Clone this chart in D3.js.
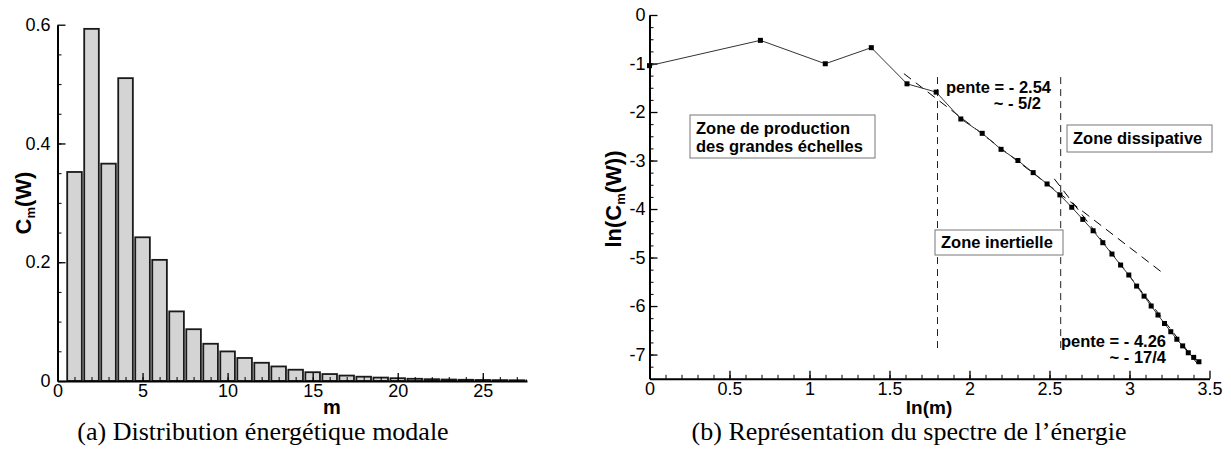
<!DOCTYPE html>
<html><head><meta charset="utf-8">
<script src="https://cdn.jsdelivr.net/npm/d3@7"></script>
<style>body{margin:0;background:#fff}svg{display:block}</style>
</head><body>
<svg id="c" width="1231" height="457"></svg>
<script>
// ---- data ----
const modes = d3.range(1, 32); // m = 1..31
const cmValues = [0.352, 0.593, 0.366, 0.510, 0.242, 0.204, 0.1172, 0.0872, 0.0627, 0.0498,
  0.0388, 0.0307, 0.0245, 0.0190, 0.0148, 0.0117, 0.00915, 0.00724, 0.00577, 0.00470,
  0.00374, 0.00304, 0.00248, 0.00206, 0.00173, 0.00146, 0.00125, 0.00109, 0.000946, 0.000860, 0.000786];
const leftYTicks = [0, 0.2, 0.4, 0.6];
const leftXTicks = [0, 5, 10, 15, 20, 25];
const rightXTicks = [0, 0.5, 1, 1.5, 2, 2.5, 3, 3.5];
const rightYTicks = [0, -1, -2, -3, -4, -5, -6, -7];
const fitLines = [
  {slope: -2.54, intercept: 2.83, from: 1.59, to: 3.21},
  {slope: -4.26, intercept: 7.40, from: 2.53, to: 3.43}
];
const zoneBounds = [1.8, 2.57];
const zoneBoundRange = [-1.28, -6.9];
const captions = ["(a)  Distribution énergétique modale", "(b)  Représentation du spectre de l’énergie"];

const svg = d3.select("#c");
const FONT = "'Liberation Sans', Arial, Helvetica, sans-serif";

function styleAxis(g, fs) {
  g.select(".domain").attr("stroke", "#000").attr("stroke-width", 2);
  g.selectAll(".tick line").attr("stroke", "#000").attr("stroke-width", 1.3);
  g.selectAll(".tick text").attr("font-family", FONT).attr("font-size", fs).attr("fill", "#000");
}
function minor(g) {
  g.select(".domain").remove();
  g.selectAll("line").attr("stroke", "#000").attr("stroke-width", 1);
}

// ================= LEFT CHART =================
const lx = d3.scaleLinear().domain([0, 27.6]).range([57.5, 527]);
const ly = d3.scaleLinear().domain([0, 0.6]).range([381, 24.7]);
const L = svg.append("g");
L.append("clipPath").attr("id", "lclip").append("rect")
  .attr("x", lx(0)).attr("y", 0).attr("width", lx(27.6) - lx(0)).attr("height", 400);
const barW = 0.86;
L.append("g").attr("clip-path", "url(#lclip)").selectAll("rect").data(modes.map((m, i) => ({m, v: cmValues[i]})))
  .join("rect")
  .attr("x", d => lx(d.m - barW / 2))
  .attr("width", d => lx(d.m + barW / 2) - lx(d.m - barW / 2))
  .attr("y", d => ly(d.v))
  .attr("height", d => ly(0) - ly(d.v))
  .attr("fill", "#d4d4d4").attr("stroke", "#1a1a1a").attr("stroke-width", 1.8);

L.append("g").attr("transform", `translate(0,${ly(0)})`)
  .call(d3.axisBottom(lx).tickValues(d3.range(1, 28)).tickSize(-4).tickFormat("")).call(minor);
L.append("g").attr("transform", `translate(${lx(0)},0)`)
  .call(d3.axisLeft(ly).tickValues(d3.range(0.05, 0.6, 0.05)).tickSize(-4).tickFormat("")).call(minor);
L.append("g").attr("transform", `translate(0,${ly(0)})`)
  .call(d3.axisBottom(lx).tickValues(leftXTicks).tickSize(-8).tickSizeOuter(0).tickPadding(3).tickFormat(d => String(d)))
  .call(g => styleAxis(g, 18));
L.append("g").attr("transform", `translate(${lx(0)},0)`)
  .call(d3.axisLeft(ly).tickValues(leftYTicks).tickSize(-8).tickSizeOuter(0).tickPadding(7).tickFormat(d => String(d)))
  .call(g => styleAxis(g, 18));

L.append("text").attr("x", 332).attr("y", 414).attr("text-anchor", "middle")
  .attr("font-family", FONT).attr("font-weight", "bold").attr("font-size", 20).text("m");
const lyt = L.append("text").attr("transform", "translate(31,203) rotate(-90)").attr("text-anchor", "middle")
  .attr("font-family", FONT).attr("font-weight", "bold").attr("font-size", 22);
lyt.append("tspan").text("C");
lyt.append("tspan").attr("font-size", 13).attr("dy", 4).text("m");
lyt.append("tspan").attr("dy", -4).text("(W)");

// ================= RIGHT CHART =================
const rx = d3.scaleLinear().domain([0, 3.5]).range([649.5, 1209.5]);
const ry = d3.scaleLinear().domain([-7.5, 0]).range([378.8, 15]);
const R = svg.append("g");

R.append("g").attr("transform", `translate(0,${ry(-7.5)})`)
  .call(d3.axisBottom(rx).tickValues(d3.range(0.1, 3.5, 0.1)).tickSize(-4).tickFormat("")).call(minor);
R.append("g").attr("transform", `translate(${rx(0)},0)`)
  .call(d3.axisLeft(ry).tickValues(d3.range(-7.25, 0, 0.25)).tickSize(-4).tickFormat("")).call(minor);
R.append("g").attr("transform", `translate(0,${ry(-7.5)})`)
  .call(d3.axisBottom(rx).tickValues(rightXTicks).tickSize(-8).tickSizeOuter(0).tickPadding(3).tickFormat(d => String(d)))
  .call(g => styleAxis(g, 18));
R.append("g").attr("transform", `translate(${rx(0)},0)`)
  .call(d3.axisLeft(ry).tickValues(rightYTicks).tickSize(-8).tickSizeOuter(0).tickPadding(4).tickFormat(d => String(d)))
  .call(g => styleAxis(g, 18));

R.selectAll("line.zb").data(zoneBounds).join("line").attr("class", "zb")
  .attr("x1", d => rx(d)).attr("x2", d => rx(d))
  .attr("y1", ry(zoneBoundRange[0])).attr("y2", ry(zoneBoundRange[1]))
  .attr("stroke", "#222").attr("stroke-width", 1).attr("stroke-dasharray", "7,5");

R.selectAll("line.fit").data(fitLines).join("line").attr("class", "fit")
  .attr("x1", d => rx(d.from)).attr("y1", d => ry(d.intercept + d.slope * d.from))
  .attr("x2", d => rx(d.to)).attr("y2", d => ry(d.intercept + d.slope * d.to))
  .attr("stroke", "#000").attr("stroke-width", 1).attr("stroke-dasharray", "9,6");

const spec = modes.map((m, i) => ({x: Math.log(m), y: Math.log(cmValues[i])}));
R.append("path").datum(spec)
  .attr("d", d3.line().x(d => rx(d.x)).y(d => ry(d.y)))
  .attr("fill", "none").attr("stroke", "#333").attr("stroke-width", 1);
R.selectAll("rect.pt").data(spec).join("rect").attr("class", "pt")
  .attr("x", d => rx(d.x) - 2.5).attr("y", d => ry(d.y) - 2.5)
  .attr("width", 5).attr("height", 5).attr("fill", "#000");

R.append("text").attr("x", 929).attr("y", 414).attr("text-anchor", "middle")
  .attr("font-family", FONT).attr("font-weight", "bold").attr("font-size", 19).text("ln(m)");
const ryt = R.append("text").attr("transform", "translate(621,199) rotate(-90)").attr("text-anchor", "middle")
  .attr("font-family", FONT).attr("font-weight", "bold").attr("font-size", 22);
ryt.append("tspan").text("ln(C");
ryt.append("tspan").attr("font-size", 13).attr("dy", 4).text("m");
ryt.append("tspan").attr("dy", -4).text("(W))");

function box(x, y, w, h, lines, lineY) {
  R.append("rect").attr("x", x).attr("y", y).attr("width", w).attr("height", h)
    .attr("fill", "#fff").attr("stroke", "#777").attr("stroke-width", 1);
  lines.forEach((t, i) => R.append("text").attr("x", x + 6).attr("y", lineY[i])
    .attr("font-family", FONT).attr("font-weight", "bold").attr("font-size", 16.5).attr("fill", "#000").text(t));
}
box(690, 115, 185, 43, ["Zone de production", "des grandes échelles"], [134, 152]);
box(935, 230, 128, 25, ["Zone inertielle"], [248]);
box(1067, 125, 145, 27, ["Zone dissipative"], [144]);

function note(x, y, t, anchor) {
  R.append("text").attr("x", x).attr("y", y).attr("text-anchor", anchor || "start")
    .attr("font-family", FONT).attr("font-weight", "bold").attr("font-size", 16.5).attr("fill", "#000").text(t);
}
note(946, 93, "pente = - 2.54");
note(1041, 109, "~ - 5/2", "end");
note(1061, 347, "pente = - 4.26");
note(1166, 363, "~ - 17/4", "end");

svg.selectAll("text.cap").data(captions).join("text").attr("class", "cap")
  .attr("x", (d, i) => i === 0 ? 263 : 909).attr("y", 440).attr("text-anchor", "middle")
  .attr("font-family", "'Liberation Serif', 'Times New Roman', serif").attr("font-size", 26).attr("fill", "#000")
  .text(d => d);
</script>
</body></html>
